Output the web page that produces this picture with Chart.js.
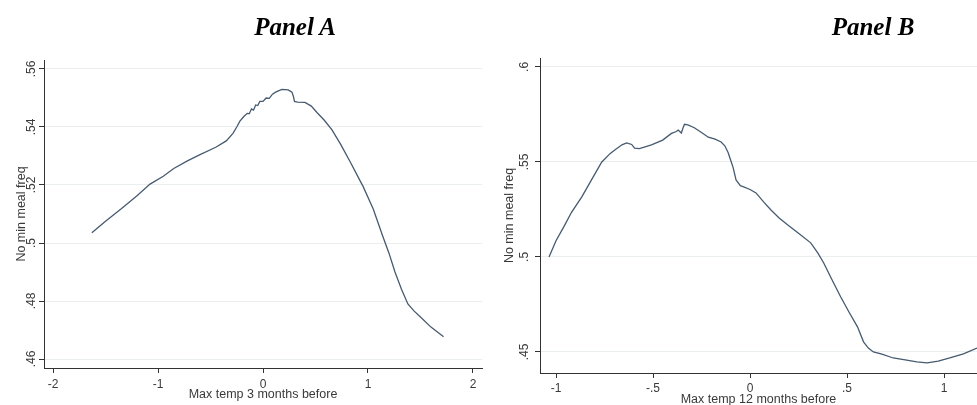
<!DOCTYPE html>
<html>
<head>
<meta charset="utf-8">
<script src="https://cdn.jsdelivr.net/npm/chart.js@4.4.0/dist/chart.umd.min.js"></script>
<style>
body{margin:0;background:#fff;overflow:hidden;width:977px;height:405px;position:relative}
canvas{position:absolute;top:0}
.panel{position:absolute;top:14px;width:200px;text-align:center;font:italic bold 25px "Liberation Serif","Times New Roman",serif;line-height:25px;color:#000}
</style>
</head>
<body>
<canvas id="chartA" width="490" height="405" style="left:0"></canvas>
<canvas id="chartB" width="487" height="412" style="left:490px"></canvas>
<div class="panel" style="left:195px">Panel A</div>
<div class="panel" style="left:773px">Panel B</div>
<script>
// Panel A: max temp 3 months before
var tempA = [-1.63,-1.50,-1.35,-1.20,-1.076,-0.95,-0.85,-0.72,-0.60,-0.45,-0.35,-0.286,-0.25,-0.22,-0.18,-0.15,-0.13,-0.11,-0.09,-0.07,-0.05,-0.03,0.0,0.03,0.06,0.09,0.12,0.18,0.24,0.276,0.29,0.30,0.33,0.40,0.46,0.514,0.58,0.657,0.74,0.83,0.924,0.952,1.05,1.14,1.20,1.257,1.32,1.38,1.44,1.50,1.60,1.72];
var freqA = [0.5035,0.5075,0.5118,0.5163,0.5203,0.5230,0.5257,0.5283,0.5305,0.5330,0.5352,0.5378,0.5400,0.5420,0.5437,0.5447,0.5446,0.5462,0.5458,0.5476,0.5474,0.5488,0.5488,0.5500,0.5499,0.5513,0.5520,0.5530,0.5528,0.5520,0.5505,0.5488,0.5486,0.5485,0.5472,0.5450,0.5425,0.5390,0.5340,0.5280,0.5215,0.5196,0.5117,0.5024,0.4965,0.4900,0.4840,0.4790,0.4765,0.4745,0.4710,0.4677];
var xTicksA = [-2,-1,0,1,2];
var xLabelsA = ['-2','-1','0','1','2'];
var yTicksA = [0.46,0.48,0.50,0.52,0.54,0.56];
var yLabelsA = ['.46','.48','.5','.52','.54','.56'];

// Panel B: max temp 12 months before
var tempB = [-1.036,-1.00,-0.96,-0.92,-0.867,-0.82,-0.764,-0.72,-0.697,-0.66,-0.636,-0.61,-0.595,-0.57,-0.508,-0.45,-0.405,-0.38,-0.37,-0.354,-0.345,-0.338,-0.32,-0.287,-0.25,-0.215,-0.18,-0.149,-0.13,-0.113,-0.10,-0.087,-0.072,-0.05,-0.036,0.0,0.031,0.07,0.108,0.15,0.195,0.25,0.313,0.35,0.38,0.42,0.467,0.51,0.554,0.585,0.61,0.636,0.68,0.738,0.80,0.86,0.913,0.97,1.03,1.10,1.17];
var freqB = [0.500,0.5085,0.5158,0.5235,0.5316,0.5400,0.5500,0.5545,0.5563,0.5590,0.5600,0.5592,0.5573,0.5570,0.5590,0.5615,0.5650,0.5660,0.5668,0.5652,0.5680,0.5698,0.5695,0.5680,0.5655,0.5630,0.5620,0.5605,0.5585,0.5550,0.5510,0.5470,0.5405,0.5375,0.5370,0.5355,0.5337,0.5290,0.5247,0.5205,0.5168,0.5125,0.5074,0.5020,0.4968,0.4885,0.4790,0.4710,0.4632,0.4553,0.4520,0.4500,0.4488,0.4468,0.4458,0.4448,0.4442,0.4452,0.4468,0.4490,0.4520];
var xTicksB = [-1,-0.5,0,0.5,1];
var xLabelsB = ['-1','-.5','0','.5','1'];
var yTicksB = [0.45,0.50,0.55,0.60];
var yLabelsB = ['.45','.5','.55','.6'];

var lineColor = '#465a70';
var axisColor = '#333';
var txtColor = '#3a3a3a';
var gridColor = '#ebeeee';
var font = {family:'"Liberation Sans", Arial, sans-serif', size:12};
var titleFont = {family:'"Liberation Sans", Arial, sans-serif', size:12.5};

var panelChart = (id, o) => {
  return new Chart(document.getElementById(id).getContext('2d'), {
    type: 'line',
    data: {
      datasets: [{
        data: o.x.map((v, i) => ({x: v, y: o.y[i]})),
        borderColor: lineColor,
        borderWidth: 1.3,
        pointRadius: 0,
        tension: 0,
        fill: false
      }]
    },
    options: {
      responsive: false,
      animation: false,
      devicePixelRatio: 1,
      layout: {padding: o.pad},
      plugins: {legend: {display: false}, tooltip: {enabled: false}},
      scales: {
        x: {
          type: 'linear', min: o.xMin, max: o.xMax,
          afterBuildTicks: s => { s.ticks = o.xTicks.map(v => ({value: v})); },
          afterFit: s => { s.height = o.xH; },
          ticks: {autoSkip: false, maxRotation: 0, padding: o.xTickPad, color: txtColor, font: font,
                  callback: (v, i) => o.xLabels[i]},
          grid: {drawOnChartArea: false, tickLength: 5, tickColor: axisColor},
          border: {color: axisColor, width: 1},
          title: {display: true, text: o.xTitle, color: txtColor, font: titleFont,
                  padding: {top: 0, bottom: o.xTitlePad}}
        },
        y: {
          type: 'linear', min: o.yMin, max: o.yMax,
          afterBuildTicks: s => { s.ticks = o.yTicks.map(v => ({value: v})); },
          afterFit: s => { s.width = o.yW; },
          ticks: {autoSkip: false, minRotation: 90, maxRotation: 90, crossAlign: 'center',
                  padding: o.yTickPad, color: txtColor, font: font,
                  callback: (v, i) => o.yLabels[i]},
          grid: {color: gridColor, lineWidth: 1, tickLength: 5, tickColor: axisColor},
          border: {color: axisColor, width: 1},
          title: {display: true, text: 'No min meal freq', color: txtColor, font: titleFont,
                  padding: {top: o.yTitlePad, bottom: 0}}
        }
      }
    }
  });
};

panelChart('chartA', {
  x: tempA, y: freqA,
  xMin: -2.086, xMax: 2.086, yMin: 0.4569, yMax: 0.5631,
  xTicks: xTicksA, xLabels: xLabelsA, yTicks: yTicksA, yLabels: yLabelsA,
  xTitle: 'Max temp 3 months before',
  pad: {top: 60, right: 8, bottom: 0, left: 0},
  xH: 37, yW: 44, xTickPad: 4, xTitlePad: 2.5, yTickPad: -1.5, yTitlePad: 14
});

panelChart('chartB', {
  x: tempB, y: freqB,
  xMin: -1.0825, xMax: 1.17, yMin: 0.4389, yMax: 0.6047,
  xTicks: xTicksB, xLabels: xLabelsB, yTicks: yTicksB, yLabels: yLabelsB,
  xTitle: 'Max temp 12 months before',
  pad: {top: 58, right: 0, bottom: 0, left: 0},
  xH: 39, yW: 50, xTickPad: 3, xTitlePad: 4.5, yTickPad: 2, yTitlePad: 12.5
});
</script>
</body>
</html>
